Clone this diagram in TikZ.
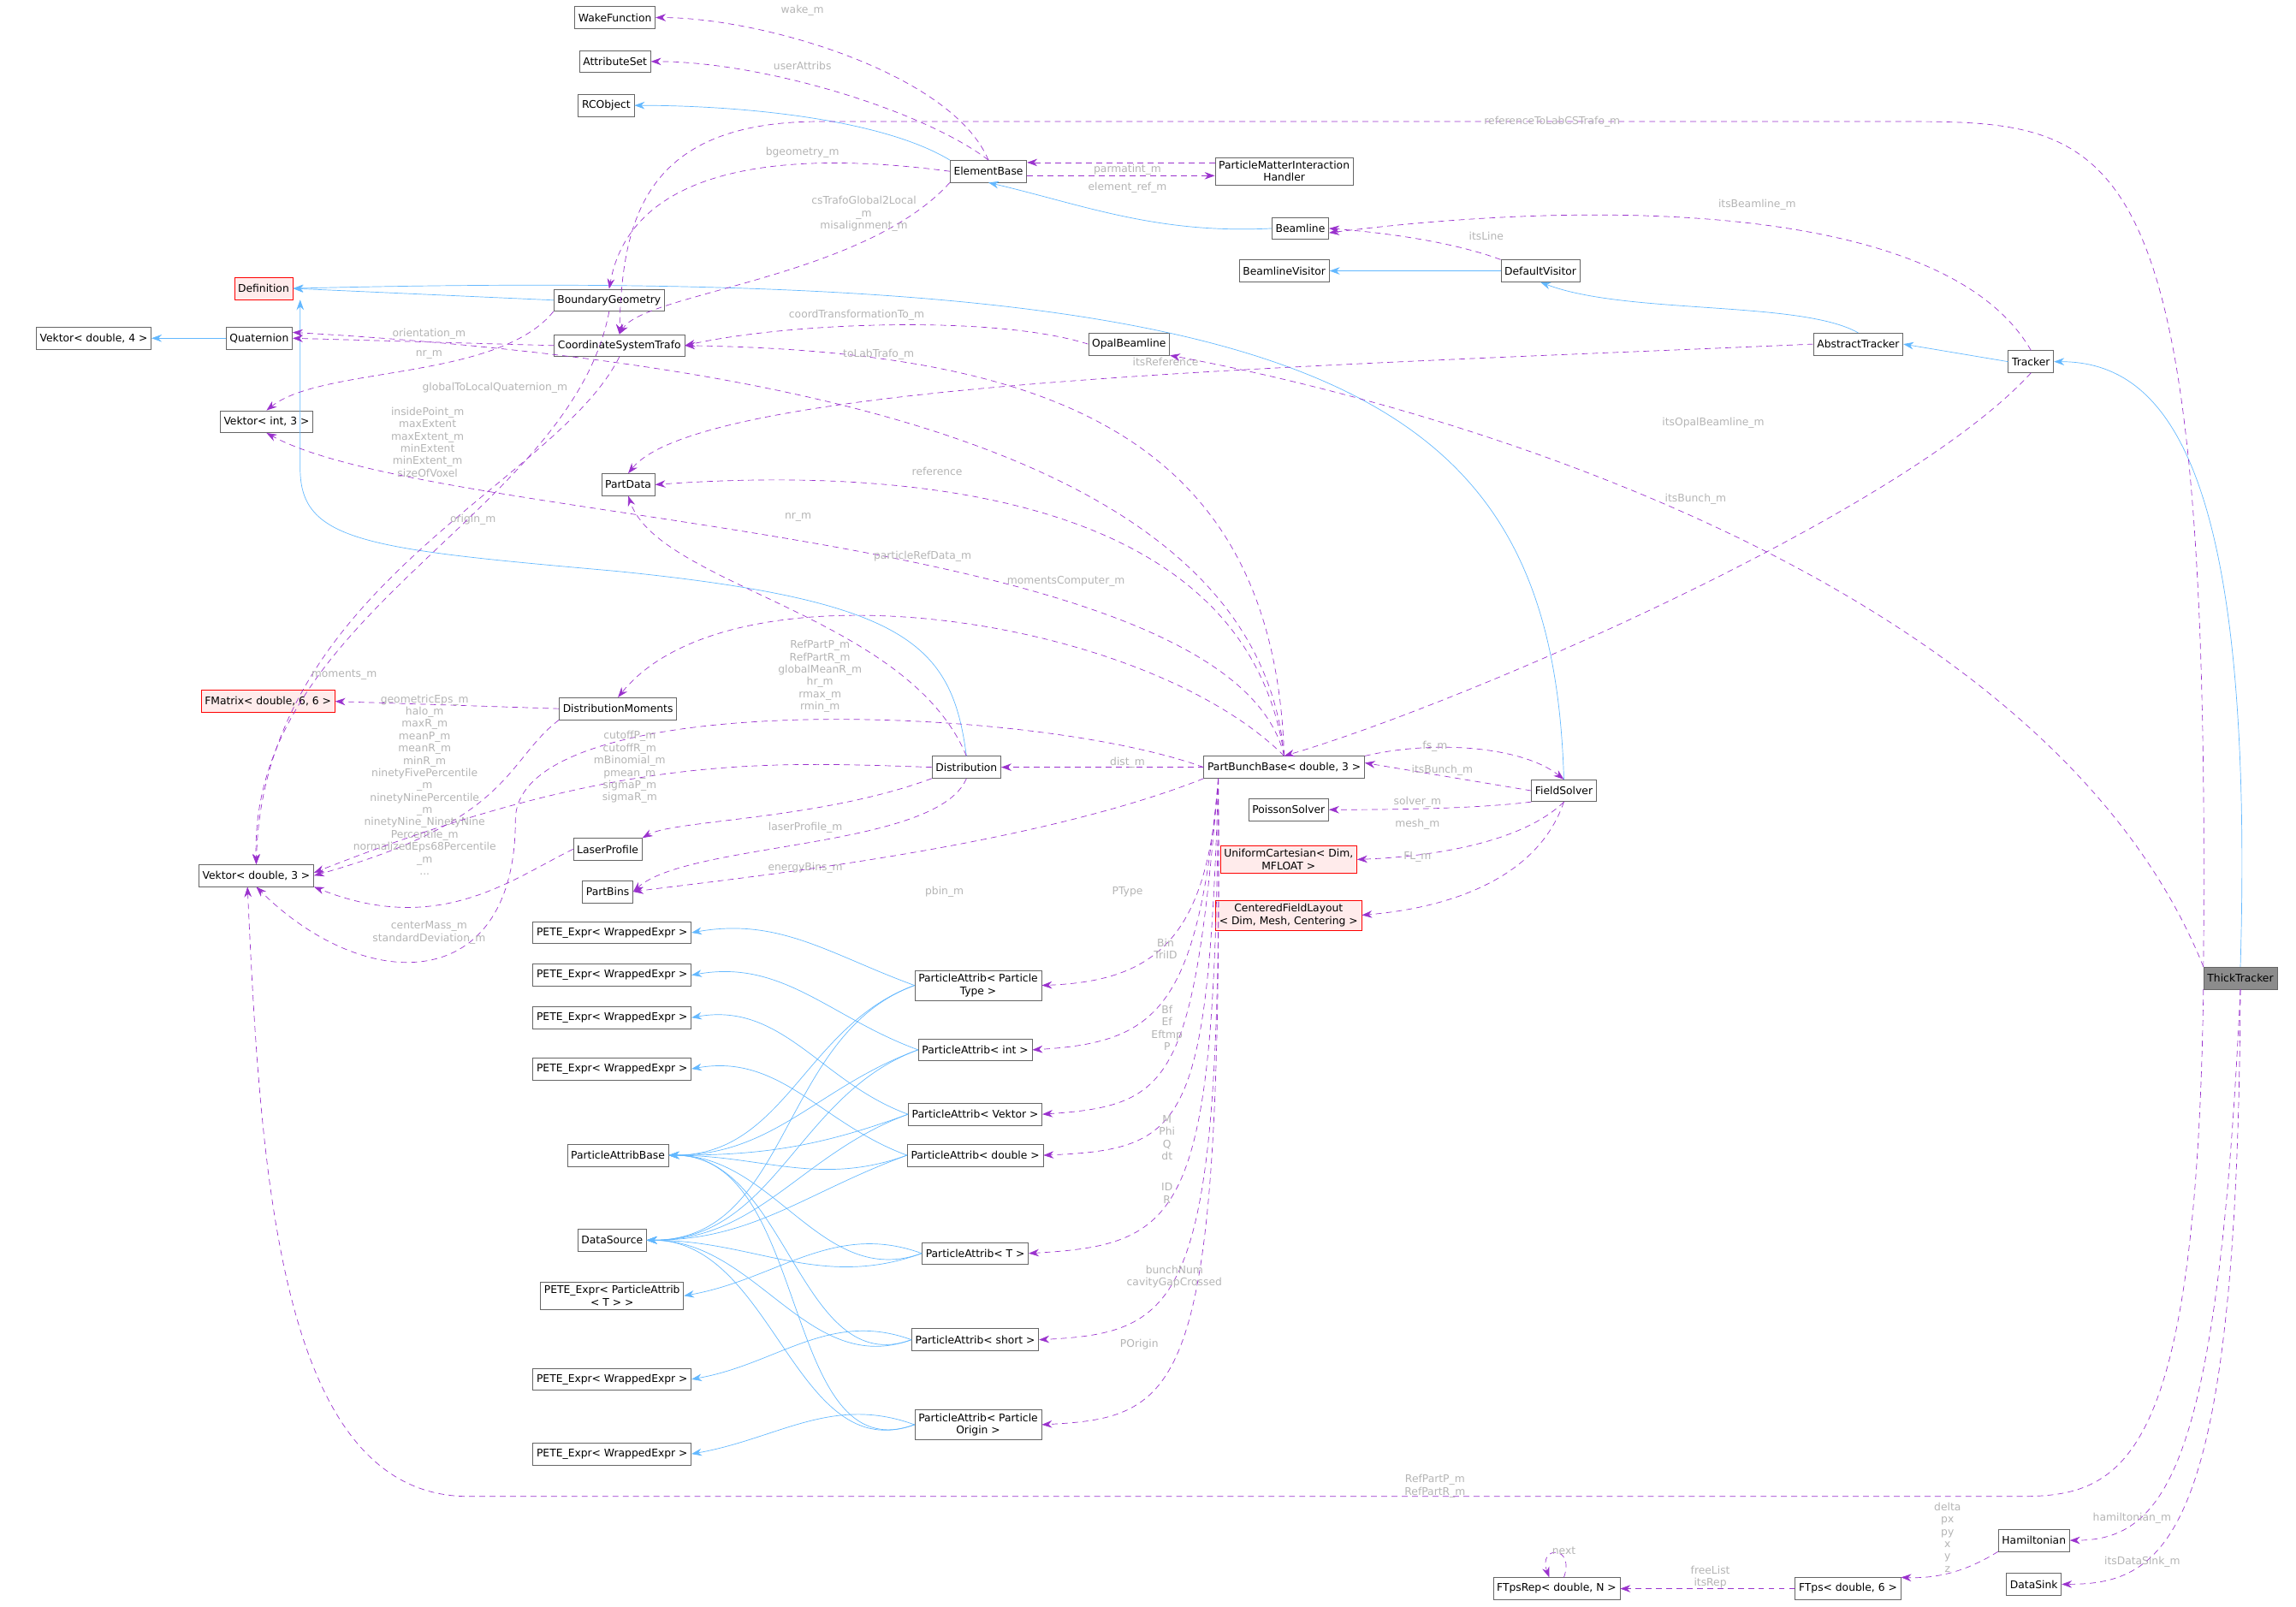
\documentclass[tikz,border=0pt]{standalone}
\usepackage{fontspec}
\setmainfont{DejaVu Sans}
\usetikzlibrary{arrows.meta}
\definecolor{depc}{HTML}{9A32CD}
\definecolor{inhc}{HTML}{63B8FF}
\definecolor{lblc}{HTML}{B4B4B4}
\begin{document}
\begin{tikzpicture}[x=1pt, y=-1pt,
box/.style={draw=black!60, fill=white, font=\fontsize{7.2}{8.4}\selectfont, inner sep=2.5pt, minimum height=15pt, align=center},
redbox/.style={box, draw=red, fill=red!8},
dep/.style={draw=depc, dashed, dash pattern=on 4pt off 3pt, -{Stealth[length=7pt,width=5pt]}},
inh/.style={draw=inhc, -{Stealth[length=7pt,width=5pt]}},
lbl/.style={text=lblc, font=\fontsize{7.2}{8.4}\selectfont, align=center, inner sep=0pt},
]
\useasboundingbox (0,0) rectangle (1568,1097);
%Nodes
\node[box] (wake) at (420,12) {WakeFunction};
\node[box] (attr) at (420,42) {AttributeSet};
\node[box] (rco) at (414,72) {RCObject};
\node[box] (elem) at (675,117) {ElementBase};
\node[box] (pmih) at (877,117) {ParticleMatterInteraction\\Handler};
\node[box] (bline) at (888,156) {Beamline};
\node[redbox] (defn) at (180,197) {Definition};
\node[box] (bgeom) at (416,205) {BoundaryGeometry};
\node[box] (blvis) at (877,185) {BeamlineVisitor};
\node[box] (dvis) at (1052,185) {DefaultVisitor};
\node[box] (vek4) at (64,231) {Vektor< double, 4 >};
\node[box] (quat) at (177,231) {Quaternion};
\node[box] (cst) at (423,236) {CoordinateSystemTrafo};
\node[box] (opal) at (771,235) {OpalBeamline};
\node[box] (atrack) at (1269,235) {AbstractTracker};
\node[box] (track) at (1387,247) {Tracker};
\node[box] (veki) at (182,288) {Vektor< int, 3 >};
\node[box] (pdata) at (429,331) {PartData};
\node[redbox] (fmat) at (183,479) {FMatrix< double, 6, 6 >};
\node[box] (dmom) at (422,484) {DistributionMoments};
\node[box] (dist) at (660,524) {Distribution};
\node[box] (pbb) at (877,524) {PartBunchBase< double, 3 >};
\node[box] (fsolv) at (1068,540) {FieldSolver};
\node[box] (poiss) at (880,553) {PoissonSolver};
\node[redbox] (ucart) at (880,587) {UniformCartesian< Dim,\\MFLOAT >};
\node[redbox] (cfl) at (880,625) {CenteredFieldLayout\\< Dim, Mesh, Centering >};
\node[box] (vekd) at (175,598) {Vektor< double, 3 >};
\node[box] (laser) at (415,580) {LaserProfile};
\node[box] (pbins) at (415,609) {PartBins};
\node[box] (peteA) at (418,637) {PETE\_Expr< WrappedExpr >};
\node[box] (peteB) at (418,666) {PETE\_Expr< WrappedExpr >};
\node[box] (peteC) at (418,695) {PETE\_Expr< WrappedExpr >};
\node[box] (peteD) at (418,730) {PETE\_Expr< WrappedExpr >};
\node[box] (pabase) at (422,789) {ParticleAttribBase};
\node[box] (dsrc) at (418,847) {DataSource};
\node[box] (peteT) at (418,885) {PETE\_Expr< ParticleAttrib\\< T > >};
\node[box] (peteE) at (418,942) {PETE\_Expr< WrappedExpr >};
\node[box] (peteF) at (418,993) {PETE\_Expr< WrappedExpr >};
\node[box] (paPT) at (668,673) {ParticleAttrib< Particle\\Type >};
\node[box] (paInt) at (666,717) {ParticleAttrib< int >};
\node[box] (paVek) at (666,761) {ParticleAttrib< Vektor >};
\node[box] (paDbl) at (666,789) {ParticleAttrib< double >};
\node[box] (paT) at (666,856) {ParticleAttrib< T >};
\node[box] (paShort) at (666,915) {ParticleAttrib< short >};
\node[box] (paOrig) at (668,973) {ParticleAttrib< Particle\\Origin >};
\node[box, fill=black!45] (thick) at (1530,668) {ThickTracker};
\node[box] (hamil) at (1389,1052) {Hamiltonian};
\node[box] (dsink) at (1389,1082) {DataSink};
\node[box] (ftrep) at (1063,1085) {FTpsRep< double, N >};
\node[box] (ftps) at (1262,1085) {FTps< double, 6 >};
\coordinate (pbbdown) at ([xshift=-45]pbb.south);

%Inheritance
\draw[inh] (elem.north west) .. controls (600,80) and (500,72) .. (rco.east);
\draw[inh] (bline.west) .. controls (790,160) and (740,140) .. (elem.south);
\draw[inh] (bgeom.west) -- (defn.east);
\draw[inh] (dvis.west) -- (blvis.east);
\draw[inh] (atrack.north) .. controls (1230,205) and (1110,215) .. (dvis.south);
\draw[inh] (track.west) -- (atrack.east);
\draw[inh] (thick.north) .. controls (1540,320) and (1480,247) .. (track.east);
\draw[inh] (quat.west) -- (vek4.east);
\draw[inh] (dist.north) .. controls (650,440) and (620,410) .. (420,390) .. controls (250,375) and (205,370) .. (205,320) -- ([xshift=25]defn.south);
\draw[inh] (fsolv.north) .. controls (1060,260) and (900,180) .. (defn.east);
\foreach \pa/\pe in {paPT/peteA, paInt/peteB, paVek/peteC, paDbl/peteD, paT/peteT, paShort/peteE, paOrig/peteF}{
  \draw[inh] (\pa.west) to[out=160,in=10] (\pe.east);
  \draw[inh] (\pa.west) to[out=200,in=0] (pabase.east);
  \draw[inh] (\pa.west) to[out=200,in=0] (dsrc.east);
}

%Members
\draw[dep] (elem.north) .. controls (650,50) and (520,12) .. (wake.east);
\node[lbl] at (548,7) {wake\_m};
\draw[dep] (elem.north) .. controls (630,75) and (520,42) .. (attr.east);
\node[lbl] at (548,45) {userAttribs};
\draw[dep] (elem.west) .. controls (520,100) and (430,120) .. (bgeom.north);
\node[lbl] at (548,104) {bgeometry\_m};
\draw[dep] (elem.south west) .. controls (590,190) and (440,200) .. (cst.north);
\node[lbl] at (590,146) {csTrafoGlobal2Local\\\_m\\misalignment\_m};
\draw[dep] ([yshift=-3]elem.east) -- ([yshift=-3]pmih.west);
\node[lbl] at (770,116) {parmatint\_m};
\draw[dep] ([yshift=6]pmih.west) -- ([yshift=6]elem.east);
\node[lbl] at (770,128) {element\_ref\_m};
\draw[dep] (dvis.north west) .. controls (1000,168) and (960,160) .. (bline.east);
\node[lbl] at (1015,161) {itsLine};
\draw[dep] (track.north) .. controls (1330,140) and (1100,135) .. ([yshift=-3]bline.east);
\node[lbl] at (1200,140) {itsBeamline\_m};
\draw[dep] (thick.north west) .. controls (1510,90) and (1450,83) .. (1300,83) -- (560,83) .. controls (440,83) and (425,150) .. (cst.north);
\node[lbl] at (1060,83) {referenceToLabCSTrafo\_m};
\draw[dep] (opal.west) .. controls (680,215) and (540,220) .. (cst.east);
\node[lbl] at (585,215) {coordTransformationTo\_m};
\draw[dep] (cst.west) -- (quat.east);
\node[lbl] at (293,228) {orientation\_m};
\draw[dep] (cst.south) .. controls (380,330) and (180,400) .. (vekd.north);
\node[lbl] at (323,355) {origin\_m};
\draw[dep] (bgeom.south west) .. controls (340,260) and (220,250) .. (veki.north);
\node[lbl] at (293,242) {nr\_m};
\draw[dep] (bgeom.south) .. controls (390,350) and (170,420) .. (vekd.north);
\node[lbl] at (292,302) {insidePoint\_m\\maxExtent\\maxExtent\_m\\minExtent\\minExtent\_m\\sizeOfVoxel};
\draw[dep] (atrack.west) .. controls (900,250) and (480,260) .. (pdata.north);
\node[lbl] at (796,247) {itsReference};
\draw[dep] (track.south) .. controls (1300,350) and (1000,480) .. (pbb.north);
\node[lbl] at (1158,341) {itsBunch\_m};
\draw[dep] (thick.north west) .. controls (1400,400) and (1000,280) .. (opal.south east);
\node[lbl] at (1170,289) {itsOpalBeamline\_m};
\draw[dep] (pbb.north) .. controls (870,300) and (720,240) .. (cst.east);
\node[lbl] at (600,242) {toLabTrafo\_m};
\draw[dep] (pbb.north) .. controls (860,330) and (600,250) .. ([yshift=4]quat.east);
\node[lbl] at (338,265) {globalToLocalQuaternion\_m};
\draw[dep] (pbb.north) .. controls (850,330) and (600,320) .. (pdata.east);
\node[lbl] at (640,322) {reference};
\draw[dep] (pbb.north) .. controls (840,360) and (300,360) .. (veki.south);
\node[lbl] at (545,353) {nr\_m};
\draw[dep] (dist.north) .. controls (620,420) and (450,400) .. (pdata.south);
\node[lbl] at (630,380) {particleRefData\_m};
\draw[dep] (pbb.north) .. controls (780,420) and (500,380) .. (dmom.north);
\node[lbl] at (728,397) {momentsComputer\_m};
\draw[dep] (dmom.west) -- (fmat.east);
\node[lbl] at (235,461) {moments\_m};
\draw[dep] (dmom.south west) .. controls (345,520) and (350,560) .. (vekd.east);
\node[lbl] at (290,536) {geometricEps\_m\\halo\_m\\maxR\_m\\meanP\_m\\meanR\_m\\minR\_m\\ninetyFivePercentile\\\_m\\ninetyNinePercentile\\\_m\\ninetyNine\_NinetyNine\\Percentile\_m\\normalizedEps68Percentile\\\_m\\...};
\draw[dep] (pbb.west) .. controls (700,480) and (352,470) .. (352,560) .. controls (352,680) and (250,680) .. (vekd.south);
\node[lbl] at (560,462) {RefPartP\_m\\RefPartR\_m\\globalMeanR\_m\\hr\_m\\rmax\_m\\rmin\_m};
\draw[dep] (dist.west) .. controls (520,520) and (420,515) .. ([yshift=2]vekd.east);
\node[lbl] at (430,524) {cutoffP\_m\\cutoffR\_m\\mBinomial\_m\\pmean\_m\\sigmaP\_m\\sigmaR\_m};
\draw[dep] (laser.west) .. controls (350,600) and (300,640) .. (vekd.south east);
\node[lbl] at (293,637) {centerMass\_m\\standardDeviation\_m};
\draw[dep] (dist.south west) .. controls (560,560) and (460,560) .. (laser.north east);
\node[lbl] at (550,565) {laserProfile\_m};
\draw[dep] (dist.south) .. controls (640,580) and (470,575) .. (pbins.east);
\node[lbl] at (550,593) {energyBins\_m};
\draw[dep] (pbb.south west) .. controls (700,580) and (500,600) .. (pbins.east);
\node[lbl] at (645,609) {pbin\_m};
\draw[dep] (pbb.west) -- (dist.east);
\node[lbl] at (770,521) {dist\_m};
\draw[dep] (pbb.north east) .. controls (980,505) and (1040,510) .. (fsolv.north);
\node[lbl] at (980,510) {fs\_m};
\draw[dep] (fsolv.west) -- ([yshift=3]pbb.east);
\node[lbl] at (985,526) {itsBunch\_m};
\draw[dep] (fsolv.south west) .. controls (1010,552) and (960,553) .. (poiss.east);
\node[lbl] at (968,548) {solver\_m};
\draw[dep] (fsolv.south) .. controls (1040,575) and (980,585) .. (ucart.east);
\node[lbl] at (968,563) {mesh\_m};
\draw[dep] (fsolv.south) .. controls (1050,600) and (990,620) .. (cfl.east);
\node[lbl] at (968,585) {FL\_m};
\draw[dep] (pbbdown) .. controls (825,640) and (790,670) .. (paPT.east);
\node[lbl] at (770,609) {PType};
\draw[dep] (pbbdown) .. controls (818,690) and (790,712) .. (paInt.east);
\node[lbl] at (796,648) {Bin\\TriID};
\draw[dep] (pbbdown) .. controls (815,740) and (800,755) .. (paVek.east);
\node[lbl] at (797,702) {Bf\\Ef\\Eftmp\\P};
\draw[dep] (pbbdown) .. controls (825,770) and (810,785) .. (paDbl.east);
\node[lbl] at (797,777) {M\\Phi\\Q\\dt};
\draw[dep] (pbbdown) .. controls (830,830) and (810,850) .. (paT.east);
\node[lbl] at (797,815) {ID\\R};
\draw[dep] (pbbdown) .. controls (835,890) and (810,910) .. (paShort.east);
\node[lbl] at (802,872) {bunchNum\\cavityGapCrossed};
\draw[dep] (pbbdown) .. controls (835,950) and (810,968) .. (paOrig.east);
\node[lbl] at (778,918) {POrigin};
\draw[dep] (thick.south west) .. controls (1500,1000) and (1450,1022) .. (1380,1022) -- (320,1022) .. controls (190,1022) and (178,800) .. ([xshift=-6]vekd.south);
\node[lbl] at (980,1015) {RefPartP\_m\\RefPartR\_m};
\draw[dep] (thick.south) .. controls (1515,1000) and (1480,1052) .. (hamil.east);
\node[lbl] at (1456,1037) {hamiltonian\_m};
\draw[dep] (thick.south) .. controls (1528,1050) and (1480,1082) .. (dsink.east);
\node[lbl] at (1463,1067) {itsDataSink\_m};
\draw[dep] (hamil.south west) .. controls (1340,1075) and (1320,1078) .. (ftps.north east);
\node[lbl] at (1330,1050) {delta\\px\\py\\x\\y\\z};
\draw[dep] (ftps.west) -- (ftrep.east);
\node[lbl] at (1168,1077) {freeList\\itsRep};
\draw[dep] ([xshift=5]ftrep.north) .. controls +(8,-22) and +(-8,-22) .. ([xshift=-5]ftrep.north);
\node[lbl] at (1068,1059) {next};
\end{tikzpicture}
\end{document}
